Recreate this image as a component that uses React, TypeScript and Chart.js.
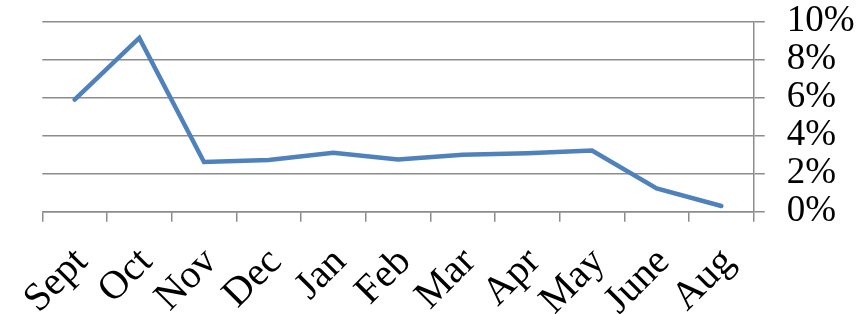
import React, { useEffect, useRef } from "react";
import { Chart, registerables } from "chart.js";

Chart.register(...registerables);

const months = ["Sept", "Oct", "Nov", "Dec", "Jan", "Feb", "Mar", "Apr", "May", "June", "Aug"];
const rates = [5.9, 9.15, 2.62, 2.72, 3.1, 2.75, 3.0, 3.08, 3.22, 1.23, 0.3];
const yTicks = [0, 2, 4, 6, 8, 10];

export default function App() {
  const ref = useRef<HTMLCanvasElement | null>(null);

  useEffect(() => {
    document.body.style.margin = "0";
    const grid = "#8c8c8c";
    const chart = new Chart(ref.current!, {
      type: "line",
      data: {
        labels: months,
        datasets: [
          {
            data: rates,
            borderColor: "#4F81BD",
            borderWidth: 4.5,
            pointRadius: 0,
            tension: 0,
            borderCapStyle: "round",
            borderJoinStyle: "miter",
          },
        ],
      },
      options: {
        animation: false,
        responsive: false,
        maintainAspectRatio: false,
        layout: { padding: { left: 42.3, top: 21.7, right: 0, bottom: 0 } },
        plugins: { legend: { display: false }, tooltip: { enabled: false } },
        scales: {
          x: {
            type: "category",
            offset: true,
            grid: {
              offset: true,
              drawOnChartArea: false,
              drawTicks: true,
              tickLength: 10,
              color: grid,
              lineWidth: 1.5,
            },
            border: { display: true, color: grid, width: 1.5 },
            ticks: {
              autoSkip: false,
              maxRotation: 45,
              minRotation: 45,
              padding: 17,
              labelOffset: 7,
              color: "#000",
              font: { family: "'Liberation Serif', 'Times New Roman', serif", size: 40 },
            },
            afterFit: (s: any) => {
              s.height = 314 - 211.7;
              s.paddingLeft = 0;
              s.paddingRight = 0;
            },
          },
          y: {
            position: "right",
            min: 0,
            max: 10,
            afterBuildTicks: (s: any) => {
              s.ticks = yTicks.map((v) => ({ value: v }));
            },
            grid: {
              drawTicks: true,
              tickLength: 11,
              color: grid,
              lineWidth: 1.5,
            },
            border: { display: true, color: grid, width: 1.5 },
            ticks: {
              autoSkip: false,
              padding: 22,
              color: "#000",
              callback: (v: any) => v + "%",
              font: { family: "'Liberation Serif', Georgia, serif", size: 37, lineHeight: 1 },
            },
            afterFit: (s: any) => {
              s.width = 861 - 753.7;
              s.paddingTop = 0;
              s.paddingBottom = 0;
            },
          },
        },
      },
    });
    return () => chart.destroy();
  }, []);

  return (
    <div style={{ position: "relative", width: 861, height: 314 }}>
      <canvas ref={ref} width={861} height={314} style={{ display: "block" }} />
    </div>
  );
}
